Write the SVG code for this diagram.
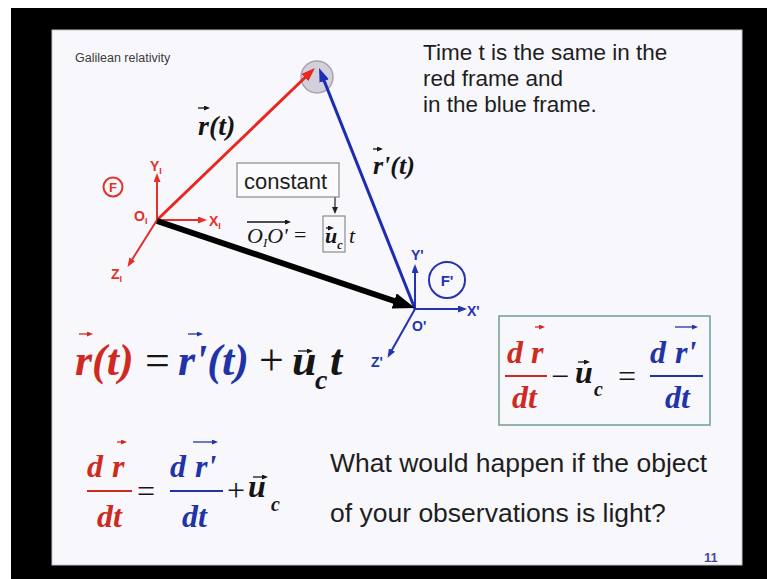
<svg xmlns="http://www.w3.org/2000/svg" width="767" height="579" viewBox="0 0 767 579">
<style>
.sans{font-family:"Liberation Sans",Arial,sans-serif}
.txt{font-family:"Liberation Sans",Arial,sans-serif;fill:#1e1e1e}
.eq{font-family:"Liberation Serif","Times New Roman",serif;font-style:italic;font-weight:bold}
.up{font-style:normal;font-weight:normal}
.thin{font-weight:normal}
.red{fill:#cf2a22}
.blue{fill:#2233a8}
.dark{fill:#151515}
.axr{font-family:"Liberation Sans",Arial,sans-serif;font-weight:bold;fill:#e3302a}
.axb{font-family:"Liberation Sans",Arial,sans-serif;font-weight:bold;fill:#2433b0}
.vr{stroke:#cf2a22;stroke-width:1.3;fill:none}
.vb{stroke:#2233a8;stroke-width:1.3;fill:none}
.vd{stroke:#151515;stroke-width:1.3;fill:none}
</style>
<defs>
<marker id="ah-red" markerUnits="userSpaceOnUse" viewBox="0 0 14 10" markerWidth="14" markerHeight="10" refX="6" refY="5" orient="auto"><path d="M0,0 L14,5 L0,10 z" fill="#e8271f"/></marker>
<marker id="ah-blue" markerUnits="userSpaceOnUse" viewBox="0 0 14 10" markerWidth="14" markerHeight="10" refX="6" refY="5" orient="auto"><path d="M0,0 L14,5 L0,10 z" fill="#1c2db5"/></marker>
<marker id="ah-black" markerUnits="userSpaceOnUse" viewBox="0 0 22 16" markerWidth="22" markerHeight="16" refX="8" refY="8" orient="auto"><path d="M0,0 L22,8 L0,16 z" fill="#000"/></marker>
<marker id="ax-red" markerUnits="userSpaceOnUse" viewBox="0 0 9 7" markerWidth="9" markerHeight="7" refX="3" refY="3.5" orient="auto"><path d="M0,0 L9,3.5 L0,7 z" fill="#e3302a"/></marker>
<marker id="ax-blue" markerUnits="userSpaceOnUse" viewBox="0 0 9 7" markerWidth="9" markerHeight="7" refX="3" refY="3.5" orient="auto"><path d="M0,0 L9,3.5 L0,7 z" fill="#2433b0"/></marker>
<marker id="ah-small" markerUnits="userSpaceOnUse" viewBox="0 0 7 6" markerWidth="7" markerHeight="6" refX="2" refY="3" orient="auto"><path d="M0,0 L7,3 L0,6 z" fill="#222"/></marker>
<marker id="vh-red" markerUnits="userSpaceOnUse" viewBox="0 0 6 5" markerWidth="6" markerHeight="5" refX="2" refY="2.5" orient="auto"><path d="M0,0 L6,2.5 L0,5 z" fill="#cf2a22"/></marker>
<marker id="vh-blue" markerUnits="userSpaceOnUse" viewBox="0 0 6 5" markerWidth="6" markerHeight="5" refX="2" refY="2.5" orient="auto"><path d="M0,0 L6,2.5 L0,5 z" fill="#2233a8"/></marker>
<marker id="vh-dark" markerUnits="userSpaceOnUse" viewBox="0 0 6 5" markerWidth="6" markerHeight="5" refX="2" refY="2.5" orient="auto"><path d="M0,0 L6,2.5 L0,5 z" fill="#151515"/></marker>
</defs>

<!-- frame -->
<rect x="0" y="0" width="767" height="579" fill="#ffffff"/>
<rect x="11" y="8" width="756" height="571" fill="#000"/>
<rect x="52" y="30" width="690" height="535" fill="#f8f8fc" stroke="#c4c4cc" stroke-width="1"/>

<g id="title">
<text class="sans" x="75" y="62" font-size="12.5" fill="#3a3a3a">Galilean relativity</text>
</g>

<g id="note-time">
<text class="txt" font-size="22.5"><tspan x="423" y="60">Time t is the same in the</tspan><tspan x="423" y="86">red frame and</tspan><tspan x="423" y="112">in the blue frame.</tspan></text>
</g>

<g id="point">
<circle cx="317" cy="77" r="16" fill="#d3cfdb" stroke="#a6a2ae" stroke-width="1.5"/>
</g>

<g id="frame-F">
<circle cx="113" cy="187" r="9.5" fill="none" stroke="#e3302a" stroke-width="2"/>
<text class="axr" x="113" y="192" font-size="13" text-anchor="middle">F</text>
<text class="axr" x="134" y="221" font-size="14">O<tspan font-size="9" dy="3">I</tspan></text>
<text class="axr" x="150" y="171" font-size="14">Y<tspan font-size="9" dy="3">I</tspan></text>
<text class="axr" x="209" y="226" font-size="14">X<tspan font-size="9" dy="3">I</tspan></text>
<text class="axr" x="111" y="279" font-size="14">Z<tspan font-size="9" dy="3">I</tspan></text>
</g>

<g id="frame-Fprime">
<circle cx="447" cy="280" r="18" fill="none" stroke="#2433b0" stroke-width="2"/>
<text class="axb" x="447" y="286" font-size="15" text-anchor="middle">F'</text>
<text class="axb" x="411" y="260" font-size="14">Y'</text>
<text class="axb" x="467" y="316" font-size="14">X'</text>
<text class="axb" x="412" y="331" font-size="14">O'</text>
<text class="axb" x="371" y="367" font-size="14">Z'</text>
</g>

<g id="connectors">
<path d="M157,220 L157,179" stroke="#e3302a" stroke-width="2" marker-end="url(#ax-red)"/>
<path d="M157,220 L201,220" stroke="#e3302a" stroke-width="2" marker-end="url(#ax-red)"/>
<path d="M157,220 L130.7,261.8" stroke="#e3302a" stroke-width="2" marker-end="url(#ax-red)"/>
<path d="M415,309 L415,270" stroke="#2433b0" stroke-width="2" marker-end="url(#ax-blue)"/>
<path d="M415,309 L461,309" stroke="#2433b0" stroke-width="2" marker-end="url(#ax-blue)"/>
<path d="M415,309 L390.5,352.6" stroke="#2433b0" stroke-width="2" marker-end="url(#ax-blue)"/>
<path d="M157,220 L309.2,73.5" stroke="#e8271f" stroke-width="3" marker-end="url(#ah-red)"/>
<path d="M415,309 L322,75.4" stroke="#1c2db5" stroke-width="3" marker-end="url(#ah-blue)"/>
<path d="M157,221 L401.7,303.5" stroke="#000" stroke-width="6" marker-end="url(#ah-black)"/>
<path d="M335,197 L335,209" stroke="#222" stroke-width="1.2" marker-end="url(#ah-small)"/>
</g>

<g id="label-r">
<text class="eq dark" x="198" y="135" font-size="28">r(t)</text>
<path class="vd" d="M198,108 L206,108" marker-end="url(#vh-dark)"/>
</g>

<g id="label-rprime">
<text class="eq dark" x="373" y="174" font-size="26">r'(t)</text>
<path class="vd" d="M373,149 L379,149" marker-end="url(#vh-dark)"/>
</g>

<g id="constant">
<rect x="237" y="163" width="102" height="34" fill="#fbfbfd" stroke="#8a8a8a" stroke-width="1.2"/>
<text class="txt" x="244" y="189" font-size="22">constant</text>
</g>

<g id="eq-OO">
<path class="vd" d="M247,222 L287,222" marker-end="url(#vh-dark)"/>
<text class="eq dark thin" x="247" y="243" font-size="22">O<tspan font-size="13" dy="4">I</tspan><tspan dy="-4">O'</tspan></text>
<text class="eq dark up" x="294" y="242" font-size="22">=</text>
<rect x="323" y="216" width="22" height="36" fill="none" stroke="#777" stroke-width="1"/>
<text class="eq dark" x="325" y="243" font-size="22">u<tspan font-size="12" dy="6">c</tspan></text>
<path class="vd" d="M326,228 L330,228" marker-end="url(#vh-dark)"/>
<text class="eq dark thin" x="349" y="243" font-size="22">t</text>
</g>

<g id="eq-main">
<text class="eq red" x="75" y="375" font-size="44">r(t)</text>
<path class="vr" d="M79,334 L89,334" marker-end="url(#vh-red)"/>
<text class="eq dark up" x="145" y="375" font-size="44">=</text>
<text class="eq blue" x="178" y="375" font-size="44">r'(t)</text>
<path class="vb" d="M188,334 L199,334" marker-end="url(#vh-blue)"/>
<text class="eq dark up" x="259" y="375" font-size="44">+</text>
<text class="eq dark" x="292" y="375" font-size="44">u</text>
<path class="vd" d="M298,351 L309,351" marker-end="url(#vh-dark)"/>
<text class="eq dark" x="315" y="389" font-size="28">c</text>
<text class="eq dark" x="330" y="375" font-size="44">t</text>
</g>

<g id="eq-boxed">
<rect x="499" y="316" width="211" height="109" fill="none" stroke="#6f9f90" stroke-width="1.5"/>
<text class="eq red" x="507" y="363" font-size="32">d</text>
<text class="eq red" x="531" y="363" font-size="32">r</text>
<path class="vr" d="M535,327 L541,327" marker-end="url(#vh-red)"/>
<line x1="505" y1="376" x2="547" y2="376" stroke="#cf2a22" stroke-width="2"/>
<text class="eq red" x="512" y="408" font-size="32">dt</text>
<text class="eq dark up" x="551" y="387" font-size="32">−</text>
<text class="eq dark" x="575" y="383" font-size="32">u</text>
<path class="vd" d="M578,362 L586,362" marker-end="url(#vh-dark)"/>
<text class="eq dark" x="594" y="396" font-size="20">c</text>
<text class="eq dark up" x="618" y="387" font-size="32">=</text>
<text class="eq blue" x="650" y="363" font-size="32">d</text>
<text class="eq blue" x="675" y="363" font-size="32">r'</text>
<path class="vb" d="M675,327 L694,327" marker-end="url(#vh-blue)"/>
<line x1="650" y1="376" x2="703" y2="376" stroke="#2233a8" stroke-width="2"/>
<text class="eq blue" x="665" y="408" font-size="32">dt</text>
</g>

<g id="eq-velocity">
<text class="eq red" x="87" y="477" font-size="32">d</text>
<text class="eq red" x="112" y="477" font-size="32">r</text>
<path class="vr" d="M117,442 L123,442" marker-end="url(#vh-red)"/>
<line x1="87" y1="491" x2="132" y2="491" stroke="#cf2a22" stroke-width="2"/>
<text class="eq red" x="97" y="527" font-size="32">dt</text>
<text class="eq dark up" x="137" y="502" font-size="32">=</text>
<text class="eq blue" x="170" y="477" font-size="32">d</text>
<text class="eq blue" x="195" y="477" font-size="32">r'</text>
<path class="vb" d="M193,442 L214,442" marker-end="url(#vh-blue)"/>
<line x1="170" y1="491" x2="223" y2="491" stroke="#2233a8" stroke-width="2"/>
<text class="eq blue" x="182" y="527" font-size="32">dt</text>
<text class="eq dark up" x="227" y="501" font-size="32">+</text>
<text class="eq dark" x="248" y="497" font-size="32">u</text>
<path class="vd" d="M253,477 L264,477" marker-end="url(#vh-dark)"/>
<text class="eq dark" x="271" y="511" font-size="20">c</text>
</g>

<g id="question">
<text class="txt" font-size="26.5"><tspan x="330" y="472">What would happen if the object</tspan><tspan x="330" y="522">of your observations is light?</tspan></text>
</g>

<g id="page">
<text class="sans" x="704" y="562" font-size="13" font-weight="bold" fill="#4a4a9c">11</text>
</g>
</svg>
